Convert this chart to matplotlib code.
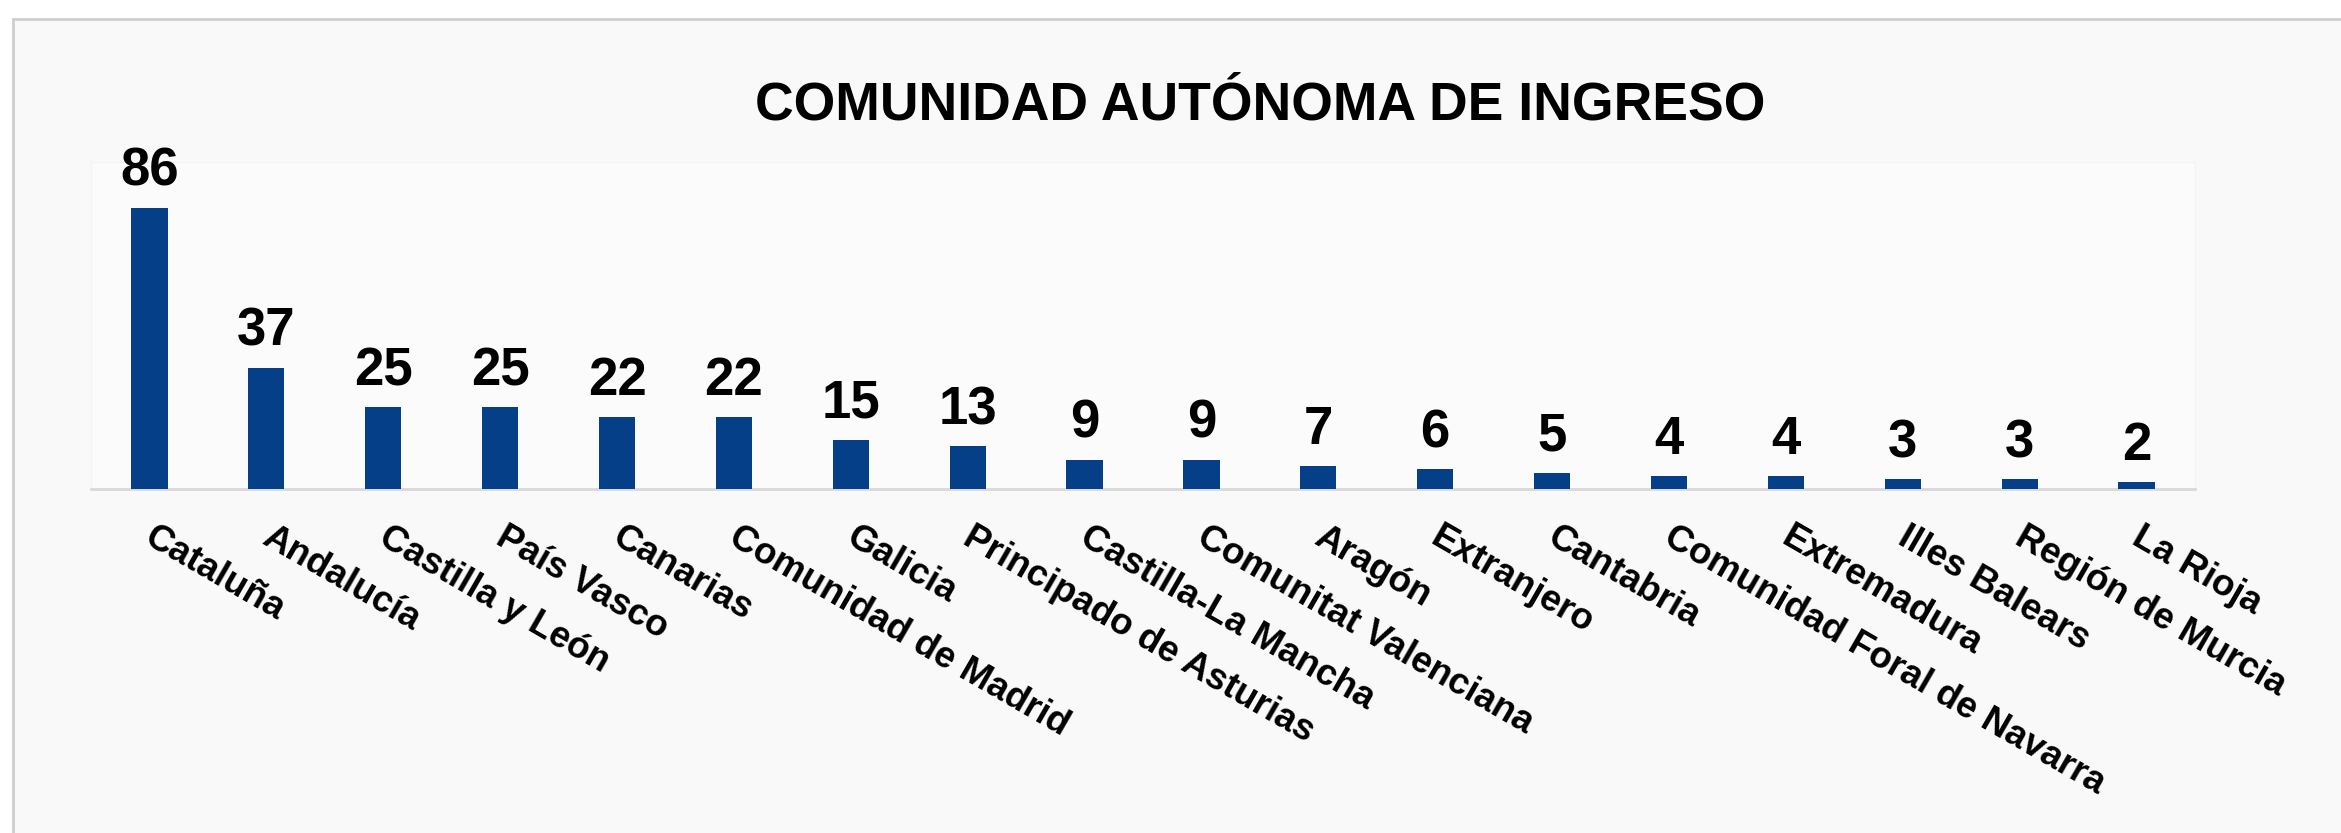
import matplotlib
matplotlib.use("Agg")
import matplotlib.pyplot as plt
from matplotlib.patches import Rectangle
from matplotlib.transforms import ScaledTranslation

plt.rcParams['font.family'] = ['Liberation Sans', 'DejaVu Sans']

regions = ['Cataluña', 'Andalucía', 'Castilla y León', 'País Vasco', 'Canarias',
           'Comunidad de Madrid', 'Galicia', 'Principado de Asturias',
           'Castilla-La Mancha', 'Comunitat Valenciana', 'Aragón', 'Extranjero',
           'Cantabria', 'Comunidad Foral de Navarra', 'Extremadura',
           'Illes Balears', 'Región de Murcia', 'La Rioja']
counts = [86, 37, 25, 25, 22, 22, 15, 13, 9, 9, 7, 6, 5, 4, 4, 3, 3, 2]

W, H = 2341, 833
fig = plt.figure(figsize=(W / 100, H / 100), dpi=100, facecolor='white')

# outer panel with light border
fig.patches.append(Rectangle((13 / W, -0.05), 1.1, 1 - 19 / H + 0.05,
                             transform=fig.transFigure, facecolor='#f9f9f9',
                             edgecolor='#cfcfcf', linewidth=2, zorder=-10))

ax = fig.add_axes([91 / W, 1 - 489 / H, (2195 - 91) / W, (489 - 162) / H])
ax.set_facecolor('#fbfbfb')
x = range(len(regions))
bars = ax.bar(x, counts, width=0.31, color='#053f87', zorder=3)

for xi, v in zip(x, counts):
    ax.annotate(str(v), (xi, v), xytext=(0, 8), textcoords='offset points',
                ha='center', va='bottom', fontsize=38, fontweight='bold')

ax.set_xlim(-0.5, len(regions) - 0.5)
ax.set_ylim(0, 100)
ax.set_xticks(list(x))
ax.set_xticklabels(regions, rotation=-30, ha='left', va='top',
                   rotation_mode='anchor', fontsize=26.5, fontweight='bold')
ax.tick_params(axis='x', length=0, pad=22)
shift = ScaledTranslation(5 / 72, 0, fig.dpi_scale_trans)
for lbl in ax.get_xticklabels():
    lbl.set_transform(lbl.get_transform() + shift)
ax.set_yticks([])
for s in ['top', 'right', 'left']:
    ax.spines[s].set_color('#f4f4f4')
    ax.spines[s].set_linewidth(1)
ax.spines['bottom'].set_color('#d9d9d9')
ax.spines['bottom'].set_linewidth(2)

fig.text(1260 / W, 1 - 106 / H, 'COMUNIDAD AUTÓNOMA DE INGRESO', ha='center',
         va='center', fontsize=38.5, fontweight='bold')

fig.savefig('out.png', dpi=100, facecolor=fig.get_facecolor())
